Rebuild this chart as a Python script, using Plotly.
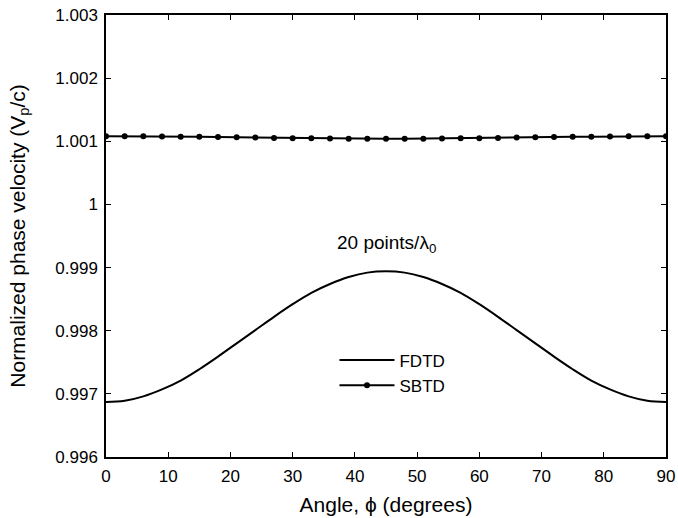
import plotly.graph_objects as go

angle = [0, 3, 6, 9, 12, 15, 18, 21, 24, 27, 30, 33, 36, 39, 42, 45,
         48, 51, 54, 57, 60, 63, 66, 69, 72, 75, 78, 81, 84, 87, 90]

fdtd = [0.99687, 0.99689, 0.99696, 0.99707, 0.99721, 0.99739, 0.99759, 0.99780,
        0.99801, 0.99822, 0.99842, 0.99860, 0.99874, 0.99885, 0.99892, 0.99894,
        0.99892, 0.99885, 0.99874, 0.99860, 0.99842, 0.99822, 0.99801, 0.99780,
        0.99759, 0.99739, 0.99721, 0.99707, 0.99696, 0.99689, 0.99687]

sbtd = [1.001080, 1.001080, 1.001078, 1.001076, 1.001073, 1.001070, 1.001066, 1.001062,
        1.001058, 1.001054, 1.001050, 1.001047, 1.001044, 1.001042, 1.001040, 1.001040,
        1.001040, 1.001042, 1.001044, 1.001047, 1.001050, 1.001054, 1.001058, 1.001062,
        1.001066, 1.001070, 1.001073, 1.001076, 1.001078, 1.001080, 1.001080]

x_ticks = [0, 10, 20, 30, 40, 50, 60, 70, 80, 90]
y_ticks = [0.996, 0.997, 0.998, 0.999, 1.0, 1.001, 1.002, 1.003]
y_tick_labels = ["0.996", "0.997", "0.998", "0.999", "1", "1.001", "1.002", "1.003"]

font_family = "Liberation Sans, Arial, sans-serif"

fig = go.Figure()
fig.add_trace(go.Scatter(x=angle, y=fdtd, mode="lines", name="FDTD",
                         line=dict(color="black", width=2, shape="spline")))
fig.add_trace(go.Scatter(x=angle, y=sbtd, mode="lines+markers", name="SBTD",
                         line=dict(color="black", width=2),
                         marker=dict(color="black", size=6)))

fig.add_annotation(x=45, y=0.99937, xref="x", yref="y",
                   text="20 points/λ<sub>0</sub>", showarrow=False,
                   font=dict(size=19, color="black", family=font_family))

axis_common = dict(showgrid=False, zeroline=False, showline=True, linecolor="black",
                   linewidth=1.5, mirror="ticks", ticks="inside", ticklen=5,
                   tickcolor="black", tickwidth=1.2, automargin=False,
                   tickfont=dict(size=17, color="black", family=font_family))

fig.update_xaxes(range=[0, 90], tickvals=x_ticks, ticklabelstandoff=3,
                 title=dict(text="Angle, ϕ (degrees)", font=dict(size=21, color="black", family=font_family), standoff=12),
                 **axis_common)
fig.update_yaxes(range=[0.996, 1.003], tickvals=y_ticks, ticktext=y_tick_labels,
                 ticklabelstandoff=3,
                 title=dict(text="Normalized phase velocity (V<sub>p</sub>/c)", font=dict(size=21, color="black", family=font_family), standoff=24),
                 **axis_common)

fig.update_layout(
    width=678, height=518,
    margin=dict(l=106, r=12, t=15, b=61),
    paper_bgcolor="white", plot_bgcolor="white",
    showlegend=True,
    legend=dict(x=0.408, y=0.19, xanchor="left", yanchor="middle",
                bgcolor="rgba(0,0,0,0)", font=dict(size=17, color="black", family=font_family),
                tracegroupgap=0, itemwidth=55),
)

fig.write_html("out.html")
